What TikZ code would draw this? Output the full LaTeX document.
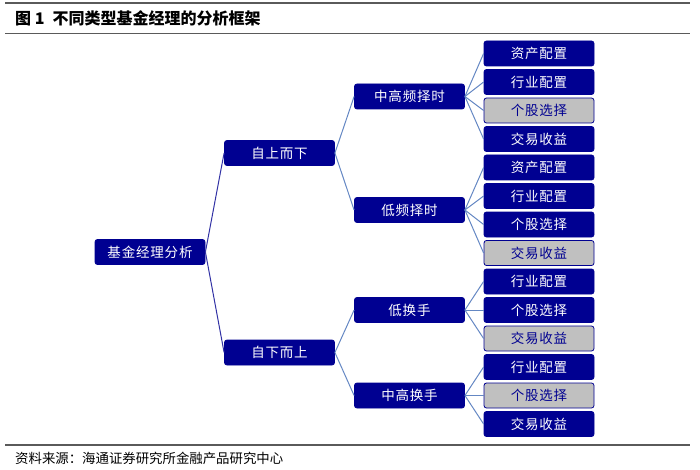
\documentclass[tikz,border=0pt]{standalone}
\usepackage{fontspec}
\setmainfont{Noto Sans CJK SC}
\definecolor{navy}{RGB}{0,0,145}
\definecolor{grayfill}{RGB}{192,192,192}
\definecolor{edgeA}{RGB}{50,50,165}
\definecolor{edgeB}{RGB}{100,135,195}
\definecolor{rulec}{RGB}{90,90,90}
\tikzset{
  box/.style={draw=navy, line width=0.8pt, fill=navy, text=white, rounded corners=2.5pt,
    minimum width=110pt, minimum height=25pt, inner sep=0pt,
    font=\fontsize{13.5}{15}\selectfont\addfontfeature{LetterSpace=6}},
  graybox/.style={box, fill=grayfill, text=navy},
  linkA/.style={draw=edgeA, line width=1pt},
  linkB/.style={draw=edgeB, line width=1pt},
}
\begin{document}
\begin{tikzpicture}[x=1pt,y=-1pt]
\useasboundingbox (0,0) rectangle (700,470);
% rules
\draw[rulec, line width=1.5pt] (5,3) -- (690,3);
\draw[rulec, line width=1.5pt] (5,33.5) -- (690,33.5);
\draw[rulec, line width=1.5pt] (5,445) -- (690,445);
\node[anchor=west, inner sep=0pt, font=\fontsize{16}{18}\selectfont\bfseries] (title) at (15,18.5) {图 1\hspace{8pt}不同类型基金经理的分析框架};
\node[anchor=west, inner sep=0pt, font=\fontsize{13.4}{15}\selectfont] (src) at (15,458) {资料来源：海通证券研究所金融产品研究中心};
% nodes
\node[box] (root) at (150,252) {基金经理分析};
\node[box] (td) at (279.5,153) {自上而下};
\node[box] (bu) at (279.5,352.5) {自下而上};
\node[box] (m1) at (409.5,96.5) {中高频择时};
\node[box] (m2) at (409.5,210) {低频择时};
\node[box] (m3) at (409.5,310) {低换手};
\node[box] (m4) at (409.5,395.5) {中高换手};
\node[box] (l1) at (539,53.5) {资产配置};
\node[box] (l2) at (539,82) {行业配置};
\node[graybox] (l3) at (539,110.5) {个股选择};
\node[box] (l4) at (539,139) {交易收益};
\node[box] (l5) at (539,167.5) {资产配置};
\node[box] (l6) at (539,196) {行业配置};
\node[box] (l7) at (539,224.5) {个股选择};
\node[graybox] (l8) at (539,253) {交易收益};
\node[box] (l9) at (539,281.5) {行业配置};
\node[box] (l10) at (539,310) {个股选择};
\node[graybox] (l11) at (539,338.5) {交易收益};
\node[box] (l12) at (539,367) {行业配置};
\node[graybox] (l13) at (539,395.5) {个股选择};
\node[box] (l14) at (539,424) {交易收益};
% connectors
\draw[linkA] (root.east) -- (td.west);
\draw[linkA] (root.east) -- (bu.west);
\draw[linkB] (td.east) -- (m1.west);
\draw[linkB] (td.east) -- (m2.west);
\draw[linkB] (bu.east) -- (m3.west);
\draw[linkB] (bu.east) -- (m4.west);
\foreach \l in {l1,l2,l3,l4} \draw[linkB] (m1.east) -- (\l.west);
\foreach \l in {l5,l6,l7,l8} \draw[linkB] (m2.east) -- (\l.west);
\foreach \l in {l9,l10,l11} \draw[linkB] (m3.east) -- (\l.west);
\foreach \l in {l12,l13,l14} \draw[linkB] (m4.east) -- (\l.west);
\end{tikzpicture}
\end{document}
